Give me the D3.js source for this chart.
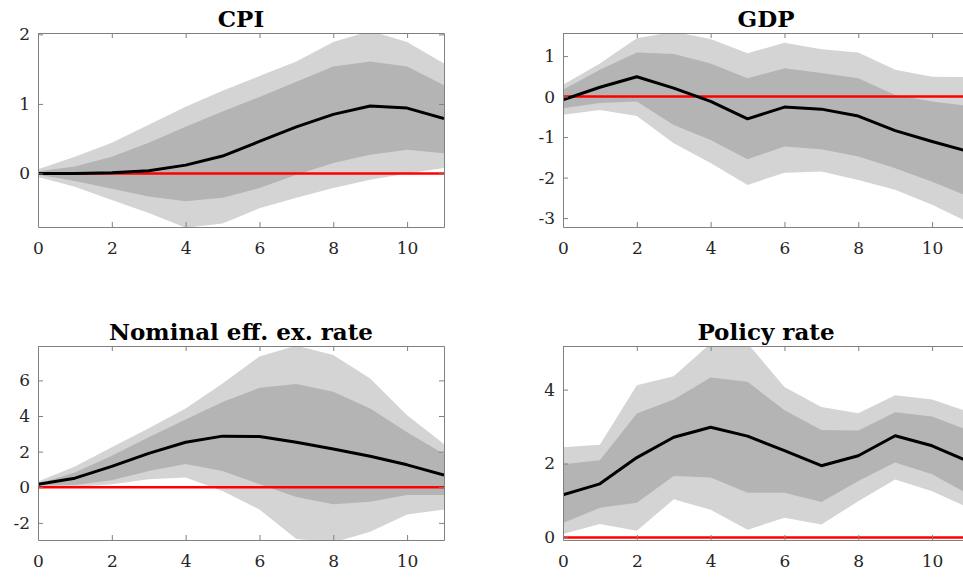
<!DOCTYPE html>
<html>
<head>
<meta charset="utf-8">
<script src="https://cdn.jsdelivr.net/npm/d3@7"></script>
<style>
  body { margin: 0; background: #fff; }
  svg { display: block; }
</style>
</head>
<body>
<script>
const horizon = d3.range(0, 12)

// CPI
const cpiMedian = [0, 0, 0.01, 0.04, 0.12, 0.25, 0.46, 0.67, 0.85, 0.97, 0.94, 0.79]
const cpiInnerHi = [0.03, 0.1, 0.24, 0.44, 0.67, 0.89, 1.1, 1.32, 1.54, 1.61, 1.54, 1.27]
const cpiInnerLo = [-0.02, -0.11, -0.22, -0.33, -0.4, -0.35, -0.21, -0.02, 0.15, 0.27, 0.34, 0.29]
const cpiOuterHi = [0.06, 0.24, 0.44, 0.7, 0.96, 1.19, 1.4, 1.61, 1.89, 2.05, 1.89, 1.58]
const cpiOuterLo = [-0.05, -0.19, -0.38, -0.57, -0.78, -0.72, -0.5, -0.35, -0.21, -0.09, 0.0, 0.08]

// GDP
const gdpMedian = [-0.08, 0.23, 0.49, 0.21, -0.12, -0.55, -0.26, -0.31, -0.48, -0.84, -1.11, -1.36]
const gdpInnerHi = [0.17, 0.66, 1.09, 1.05, 0.82, 0.45, 0.7, 0.58, 0.45, 0.04, -0.12, -0.23]
const gdpInnerLo = [-0.29, -0.16, -0.12, -0.7, -1.07, -1.55, -1.23, -1.3, -1.48, -1.77, -2.1, -2.47]
const gdpOuterHi = [0.29, 0.82, 1.44, 1.6, 1.42, 1.07, 1.33, 1.17, 1.09, 0.66, 0.49, 0.48]
const gdpOuterLo = [-0.45, -0.33, -0.48, -1.15, -1.64, -2.18, -1.88, -1.85, -2.06, -2.3, -2.67, -3.11]

// Nominal effective exchange rate
const neerMedian = [0.17, 0.51, 1.17, 1.9, 2.53, 2.87, 2.85, 2.53, 2.15, 1.74, 1.26, 0.68]
const neerInnerHi = [0.2, 0.83, 1.77, 2.81, 3.81, 4.79, 5.58, 5.79, 5.36, 4.42, 3.09, 1.87]
const neerInnerLo = [0.08, 0.13, 0.4, 0.92, 1.3, 0.92, 0.17, -0.55, -0.96, -0.81, -0.43, -0.43]
const neerOuterHi = [0.32, 1.17, 2.25, 3.32, 4.42, 5.83, 7.34, 7.95, 7.43, 6.11, 4.04, 2.43]
const neerOuterLo = [-0.02, 0.02, 0.17, 0.45, 0.55, -0.21, -1.25, -2.9, -3.1, -2.5, -1.53, -1.25]

// Policy rate
const rateMedian = [1.15, 1.45, 2.16, 2.71, 2.98, 2.74, 2.35, 1.94, 2.21, 2.75, 2.48, 2.05]
const rateInnerHi = [1.98, 2.09, 3.35, 3.73, 4.33, 4.21, 3.44, 2.91, 2.89, 3.39, 3.27, 2.89]
const rateInnerLo = [0.39, 0.8, 0.94, 1.66, 1.62, 1.21, 1.21, 0.96, 1.53, 2.03, 1.71, 1.16]
const rateOuterHi = [2.44, 2.51, 4.12, 4.36, 5.25, 5.25, 4.07, 3.53, 3.36, 3.85, 3.73, 3.39]
const rateOuterLo = [0.09, 0.36, 0.18, 1.03, 0.75, 0.21, 0.53, 0.35, 0.98, 1.57, 1.25, 0.8]

const xTicks = [0, 2, 4, 6, 8, 10]

const panels = [
    {title: 'CPI', left: 38, top: 33, yDomain: [-0.77, 2.02], yTicks: [0, 1, 2],
     median: cpiMedian, innerHi: cpiInnerHi, innerLo: cpiInnerLo, outerHi: cpiOuterHi, outerLo: cpiOuterLo},
    {title: 'GDP', left: 563, top: 33, yDomain: [-3.22, 1.57], yTicks: [-3, -2, -1, 0, 1],
     median: gdpMedian, innerHi: gdpInnerHi, innerLo: gdpInnerLo, outerHi: gdpOuterHi, outerLo: gdpOuterLo},
    {title: 'Nominal eff. ex. rate', left: 38, top: 346, yDomain: [-2.96, 7.93], yTicks: [-2, 0, 2, 4, 6],
     median: neerMedian, innerHi: neerInnerHi, innerLo: neerInnerLo, outerHi: neerOuterHi, outerLo: neerOuterLo},
    {title: 'Policy rate', left: 563, top: 346, yDomain: [-0.07, 5.18], yTicks: [0, 2, 4],
     median: rateMedian, innerHi: rateInnerHi, innerLo: rateInnerLo, outerHi: rateOuterHi, outerLo: rateOuterLo},
]

const width = 963
const height = 578
const plotW = 406
const plotH = 194
const serif = '"DejaVu Serif", "Liberation Serif", serif'

const svg = d3.select('body').append('svg')
    .attr('width', width)
    .attr('height', height)

panels.forEach((p, i) => {
    const g = svg.append('g').attr('transform', `translate(${p.left},${p.top})`)
    const x = d3.scaleLinear().domain([0, 11]).range([0, plotW])
    const y = d3.scaleLinear().domain(p.yDomain).range([plotH, 0])

    const clipId = `clip-${i}`
    g.append('clipPath').attr('id', clipId)
        .append('rect').attr('width', plotW).attr('height', plotH)

    const plot = g.append('g').attr('clip-path', `url(#${clipId})`)

    const band = (hi, lo) => d3.area()
        .x((d, j) => x(horizon[j]))
        .y0((d, j) => y(lo[j]))
        .y1((d, j) => y(hi[j]))(horizon)

    plot.append('path').attr('d', band(p.outerHi, p.outerLo)).attr('fill', '#d4d4d4')
    plot.append('path').attr('d', band(p.innerHi, p.innerLo)).attr('fill', '#b4b4b4')

    plot.append('line')
        .attr('x1', 0).attr('x2', plotW)
        .attr('y1', y(0)).attr('y2', y(0))
        .attr('stroke', '#ff0000').attr('stroke-width', 2.5)

    plot.append('path')
        .attr('d', d3.line().x((d, j) => x(horizon[j])).y((d, j) => y(p.median[j]))(horizon))
        .attr('fill', 'none').attr('stroke', '#000').attr('stroke-width', 3)
        .attr('stroke-linejoin', 'round')

    // MATLAB-like box with inward ticks
    const axisColor = '#808080'
    const styleAxis = (sel) => {
        sel.attr('font-family', serif).attr('font-size', 17)
        sel.select('.domain').attr('stroke', axisColor)
        sel.selectAll('.tick line').attr('stroke', axisColor)
        sel.selectAll('.tick text').attr('fill', '#262626')
    }
    const fmt = d => String(d)

    g.append('g').attr('transform', `translate(0,${plotH})`)
        .call(d3.axisBottom(x).tickValues(xTicks).tickSize(-5).tickSizeOuter(0).tickPadding(15).tickFormat(fmt))
        .call(styleAxis)
    g.append('g')
        .call(d3.axisTop(x).tickValues(xTicks).tickSize(-5).tickSizeOuter(0).tickFormat(''))
        .call(styleAxis)
    g.append('g')
        .call(d3.axisLeft(y).tickValues(p.yTicks).tickSize(-5).tickSizeOuter(0).tickPadding(8).tickFormat(fmt))
        .call(styleAxis)
    g.append('g').attr('transform', `translate(${plotW},0)`)
        .call(d3.axisRight(y).tickValues(p.yTicks).tickSize(-5).tickSizeOuter(0).tickFormat(''))
        .call(styleAxis)

    g.append('text')
        .attr('x', plotW / 2).attr('y', -6)
        .attr('text-anchor', 'middle')
        .attr('font-family', serif)
        .attr('font-size', 23).attr('font-weight', 'bold')
        .attr('fill', '#000')
        .text(p.title)
})
</script>
</body>
</html>
